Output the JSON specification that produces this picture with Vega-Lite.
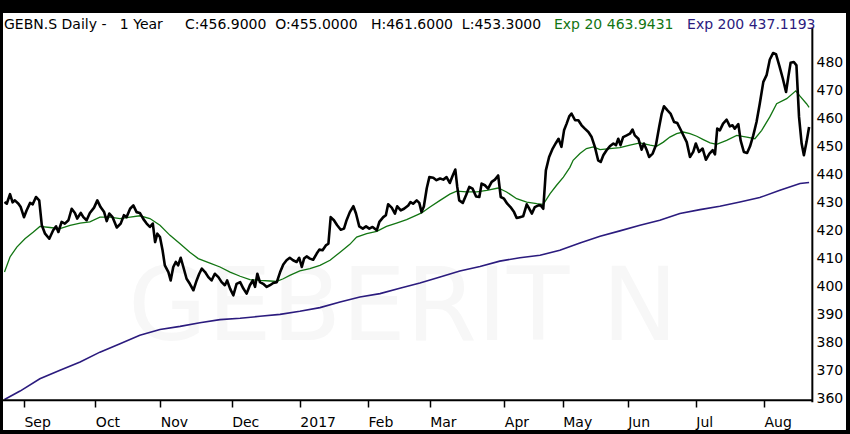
{
  "$schema": "https://vega.github.io/schema/vega-lite/v6.json",
  "width": 843, "height": 417,
  "autosize": "none",
  "padding": {"left": 3, "top": 13, "right": 4, "bottom": 4},
  "background": "black",
  "config": {
    "view": {"fill": "white", "stroke": null},
    "font": "DejaVu Sans",
    "axis": {"labelOverlap": false, "labelFlush": false, "labelBound": false}
  },
  "datasets": {
    "close": [
      {"day":0,"price":430.1},{"day":0.7,"price":429.5},{"day":1.7,"price":432.9},{"day":2.5,"price":430.0},{"day":3.2,"price":430.7},{"day":4.3,"price":429.5},{"day":5.0,"price":428.3},{"day":6.0,"price":424.7},{"day":6.8,"price":427.1},{"day":7.9,"price":429.8},{"day":8.7,"price":429.3},{"day":9.7,"price":431.9},{"day":10.7,"price":430.7},{"day":11.5,"price":421.8},{"day":12.5,"price":418.8},{"day":13.8,"price":417.0},{"day":15.0,"price":420.0},{"day":15.9,"price":421.4},{"day":16.6,"price":419.4},{"day":17.6,"price":423.0},{"day":18.6,"price":422.4},{"day":19.7,"price":423.6},{"day":20.7,"price":427.7},{"day":21.7,"price":426.2},{"day":22.4,"price":424.2},{"day":23.5,"price":426.2},{"day":24.3,"price":424.7},{"day":25.3,"price":423.6},{"day":26.3,"price":426.2},{"day":27.6,"price":428.1},{"day":28.6,"price":430.7},{"day":29.6,"price":428.3},{"day":30.7,"price":426.5},{"day":31.5,"price":423.3},{"day":32.3,"price":426.0},{"day":33.3,"price":424.7},{"day":34.6,"price":421.0},{"day":35.8,"price":422.4},{"day":36.8,"price":425.4},{"day":37.6,"price":424.7},{"day":38.7,"price":427.7},{"day":39.7,"price":428.9},{"day":40.7,"price":426.5},{"day":41.7,"price":426.2},{"day":42.8,"price":424.0},{"day":43.8,"price":422.4},{"day":44.8,"price":421.2},{"day":45.7,"price":422.4},{"day":46.4,"price":415.8},{"day":47.1,"price":418.8},{"day":47.9,"price":417.6},{"day":48.7,"price":412.9},{"day":49.4,"price":407.5},{"day":50.5,"price":405.1},{"day":51.2,"price":402.1},{"day":52.0,"price":406.9},{"day":52.8,"price":408.7},{"day":53.5,"price":407.5},{"day":54.3,"price":410.2},{"day":55.1,"price":406.9},{"day":56.1,"price":402.7},{"day":57.1,"price":400.9},{"day":58.2,"price":398.6},{"day":59.2,"price":402.1},{"day":60.0,"price":404.5},{"day":60.8,"price":406.3},{"day":61.8,"price":405.1},{"day":62.8,"price":403.3},{"day":63.8,"price":402.1},{"day":64.8,"price":404.5},{"day":65.9,"price":403.3},{"day":66.9,"price":401.5},{"day":67.9,"price":400.4},{"day":68.6,"price":402.1},{"day":69.5,"price":399.2},{"day":70.5,"price":396.8},{"day":71.5,"price":400.9},{"day":72.6,"price":401.5},{"day":73.6,"price":399.2},{"day":74.6,"price":397.4},{"day":75.6,"price":400.4},{"day":76.5,"price":402.1},{"day":77.2,"price":399.8},{"day":77.9,"price":404.5},{"day":78.7,"price":401.5},{"day":79.7,"price":400.9},{"day":80.8,"price":399.8},{"day":81.8,"price":400.4},{"day":82.8,"price":401.2},{"day":83.9,"price":401.5},{"day":84.9,"price":405.0},{"day":85.9,"price":407.8},{"day":86.9,"price":409.3},{"day":87.9,"price":410.2},{"day":88.9,"price":409.3},{"day":90.0,"price":408.7},{"day":90.8,"price":410.2},{"day":91.6,"price":406.9},{"day":92.3,"price":409.9},{"day":93.1,"price":410.7},{"day":94.1,"price":409.9},{"day":95.1,"price":409.5},{"day":96.2,"price":411.7},{"day":97.0,"price":413.1},{"day":98.0,"price":412.9},{"day":99.0,"price":414.6},{"day":99.8,"price":415.2},{"day":100.5,"price":424.7},{"day":101.5,"price":423.6},{"day":102.5,"price":421.8},{"day":103.6,"price":420.2},{"day":104.6,"price":420.6},{"day":105.4,"price":423.6},{"day":106.4,"price":426.5},{"day":107.5,"price":428.6},{"day":108.3,"price":426.0},{"day":109.3,"price":421.4},{"day":110.4,"price":420.6},{"day":111.4,"price":421.4},{"day":112.4,"price":420.6},{"day":113.4,"price":421.2},{"day":114.7,"price":420.0},{"day":115.5,"price":423.0},{"day":116.7,"price":424.7},{"day":117.5,"price":425.4},{"day":118.2,"price":429.3},{"day":119.3,"price":428.1},{"day":120.3,"price":426.0},{"day":121.0,"price":428.6},{"day":122.1,"price":427.1},{"day":123.1,"price":427.7},{"day":124.4,"price":428.9},{"day":125.1,"price":430.1},{"day":125.9,"price":429.5},{"day":127.0,"price":430.7},{"day":127.8,"price":429.8},{"day":128.5,"price":426.5},{"day":129.2,"price":428.5},{"day":130.1,"price":435.0},{"day":130.9,"price":439.0},{"day":132.1,"price":438.8},{"day":133.1,"price":437.9},{"day":134.2,"price":438.5},{"day":135.2,"price":438.1},{"day":136.2,"price":439.0},{"day":137.2,"price":436.9},{"day":138.1,"price":439.6},{"day":138.9,"price":441.7},{"day":139.5,"price":435.5},{"day":140.1,"price":430.7},{"day":141.2,"price":429.8},{"day":142.2,"price":432.5},{"day":143.2,"price":435.5},{"day":144.2,"price":434.9},{"day":145.3,"price":432.1},{"day":146.3,"price":431.9},{"day":147.0,"price":436.7},{"day":148.0,"price":436.1},{"day":149.0,"price":434.9},{"day":150.1,"price":437.3},{"day":151.1,"price":438.1},{"day":152.1,"price":439.6},{"day":152.9,"price":431.9},{"day":153.9,"price":431.3},{"day":154.9,"price":429.5},{"day":155.9,"price":428.3},{"day":157.0,"price":426.5},{"day":157.8,"price":424.4},{"day":158.8,"price":424.7},{"day":159.8,"price":425.0},{"day":160.9,"price":429.3},{"day":161.7,"price":427.7},{"day":162.5,"price":426.0},{"day":163.4,"price":428.3},{"day":164.5,"price":428.9},{"day":165.2,"price":428.9},{"day":166.0,"price":427.7},{"day":166.8,"price":441.4},{"day":167.8,"price":446.2},{"day":168.9,"price":449.2},{"day":169.9,"price":451.2},{"day":170.7,"price":452.7},{"day":171.6,"price":449.8},{"day":172.4,"price":455.7},{"day":173.2,"price":458.1},{"day":174.0,"price":460.7},{"day":174.7,"price":461.7},{"day":175.8,"price":459.3},{"day":176.8,"price":459.3},{"day":177.8,"price":457.5},{"day":178.8,"price":456.3},{"day":179.9,"price":455.1},{"day":180.9,"price":453.3},{"day":181.9,"price":449.8},{"day":182.9,"price":445.0},{"day":183.7,"price":444.4},{"day":184.5,"price":446.8},{"day":185.5,"price":448.6},{"day":186.5,"price":450.0},{"day":187.6,"price":451.0},{"day":188.4,"price":450.4},{"day":189.1,"price":452.7},{"day":189.8,"price":450.4},{"day":190.6,"price":453.3},{"day":191.7,"price":453.9},{"day":192.7,"price":454.5},{"day":193.5,"price":456.0},{"day":194.2,"price":453.9},{"day":195.3,"price":452.7},{"day":196.3,"price":448.8},{"day":197.0,"price":451.0},{"day":197.9,"price":448.6},{"day":198.6,"price":446.2},{"day":199.7,"price":447.4},{"day":200.7,"price":450.4},{"day":201.7,"price":456.9},{"day":202.5,"price":461.7},{"day":203.2,"price":464.3},{"day":204.2,"price":462.9},{"day":205.2,"price":461.7},{"day":206.3,"price":458.7},{"day":207.3,"price":458.3},{"day":208.3,"price":456.0},{"day":209.3,"price":453.6},{"day":210.2,"price":451.5},{"day":211.2,"price":446.2},{"day":212.2,"price":448.0},{"day":213.0,"price":451.0},{"day":214.0,"price":448.0},{"day":215.1,"price":449.2},{"day":216.1,"price":445.2},{"day":217.2,"price":447.4},{"day":218.2,"price":448.6},{"day":218.9,"price":447.1},{"day":219.6,"price":456.3},{"day":220.4,"price":455.7},{"day":221.4,"price":458.1},{"day":222.5,"price":459.5},{"day":223.5,"price":457.1},{"day":224.3,"price":457.5},{"day":225.0,"price":456.3},{"day":226.1,"price":457.9},{"day":226.8,"price":452.1},{"day":227.8,"price":448.0},{"day":228.8,"price":447.6},{"day":229.7,"price":450.0},{"day":230.7,"price":453.9},{"day":231.7,"price":458.7},{"day":232.7,"price":465.2},{"day":233.8,"price":473.0},{"day":234.8,"price":475.4},{"day":235.8,"price":481.0},{"day":236.8,"price":483.3},{"day":237.7,"price":482.9},{"day":238.7,"price":478.9},{"day":239.8,"price":474.2},{"day":240.8,"price":469.4},{"day":241.5,"price":474.8},{"day":242.2,"price":479.8},{"day":243.2,"price":480.1},{"day":244.0,"price":478.9},{"day":244.8,"price":460.5},{"day":245.6,"price":451.0},{"day":246.3,"price":446.8},{"day":247.1,"price":451.5},{"day":247.9,"price":456.9}
    ],
    "ema20": [
      {"day":0,"price":405.1},{"day":1.7,"price":410.5},{"day":3.8,"price":414.0},{"day":6.3,"price":417.0},{"day":8.9,"price":419.4},{"day":10.9,"price":421.4},{"day":14.0,"price":421.0},{"day":17.1,"price":420.6},{"day":20.2,"price":421.8},{"day":23.3,"price":422.6},{"day":26.3,"price":423.0},{"day":29.4,"price":424.7},{"day":32.5,"price":424.7},{"day":35.6,"price":424.2},{"day":38.7,"price":424.7},{"day":41.7,"price":425.2},{"day":44.8,"price":424.2},{"day":47.9,"price":421.8},{"day":51.0,"price":418.2},{"day":54.1,"price":415.2},{"day":57.1,"price":412.2},{"day":59.7,"price":409.9},{"day":63.3,"price":408.3},{"day":66.4,"price":406.9},{"day":69.5,"price":405.1},{"day":72.6,"price":403.6},{"day":75.6,"price":402.4},{"day":78.7,"price":402.1},{"day":81.8,"price":401.9},{"day":83.9,"price":401.8},{"day":85.9,"price":402.7},{"day":87.9,"price":403.9},{"day":91.0,"price":405.5},{"day":94.1,"price":406.3},{"day":97.2,"price":407.5},{"day":100.3,"price":409.3},{"day":103.4,"price":412.2},{"day":106.4,"price":415.0},{"day":108.5,"price":417.6},{"day":111.6,"price":418.8},{"day":114.7,"price":419.6},{"day":117.7,"price":421.4},{"day":120.8,"price":422.6},{"day":123.9,"price":423.8},{"day":127.0,"price":425.4},{"day":128.5,"price":426.2},{"day":131.1,"price":428.3},{"day":134.2,"price":430.7},{"day":137.2,"price":432.9},{"day":139.3,"price":434.0},{"day":142.4,"price":433.7},{"day":145.5,"price":433.7},{"day":148.6,"price":434.3},{"day":152.1,"price":435.1},{"day":154.7,"price":433.7},{"day":157.8,"price":431.3},{"day":160.9,"price":430.1},{"day":164.0,"price":429.5},{"day":166.0,"price":429.3},{"day":168.1,"price":433.1},{"day":170.1,"price":436.1},{"day":172.2,"price":439.0},{"day":174.2,"price":442.5},{"day":175.2,"price":445.0},{"day":177.3,"price":447.4},{"day":179.3,"price":449.2},{"day":181.4,"price":449.8},{"day":183.5,"price":448.8},{"day":186.5,"price":449.2},{"day":189.6,"price":449.5},{"day":192.7,"price":450.4},{"day":195.8,"price":451.2},{"day":198.9,"price":450.4},{"day":200.9,"price":450.0},{"day":203.0,"price":451.5},{"day":205.0,"price":453.3},{"day":207.1,"price":454.5},{"day":209.1,"price":455.1},{"day":211.2,"price":454.5},{"day":213.3,"price":453.6},{"day":215.3,"price":452.4},{"day":217.4,"price":451.2},{"day":219.4,"price":450.7},{"day":222.5,"price":452.1},{"day":225.6,"price":453.9},{"day":228.7,"price":453.3},{"day":231.2,"price":452.7},{"day":233.3,"price":455.7},{"day":235.8,"price":460.5},{"day":237.9,"price":465.2},{"day":241.0,"price":467.0},{"day":243.8,"price":469.8},{"day":245.1,"price":467.9},{"day":247.1,"price":465.2},{"day":247.9,"price":463.9}
    ],
    "ema200": [
      {"day":0,"price":359.6},{"day":4.8,"price":362.6},{"day":10.9,"price":367.0},{"day":17.1,"price":370.0},{"day":23.3,"price":373.0},{"day":29.4,"price":376.5},{"day":35.6,"price":379.5},{"day":41.7,"price":382.5},{"day":47.9,"price":384.6},{"day":54.1,"price":385.7},{"day":60.2,"price":387.0},{"day":66.4,"price":388.1},{"day":72.6,"price":388.6},{"day":78.7,"price":389.3},{"day":84.9,"price":390.0},{"day":91.0,"price":391.1},{"day":97.2,"price":392.4},{"day":103.4,"price":394.4},{"day":109.5,"price":396.2},{"day":115.7,"price":397.4},{"day":121.8,"price":399.3},{"day":128.0,"price":401.2},{"day":134.2,"price":403.3},{"day":140.3,"price":405.5},{"day":146.5,"price":407.1},{"day":152.6,"price":409.0},{"day":158.8,"price":410.2},{"day":165.0,"price":411.1},{"day":171.1,"price":412.9},{"day":177.3,"price":415.5},{"day":183.5,"price":417.9},{"day":189.6,"price":419.8},{"day":195.8,"price":421.8},{"day":201.9,"price":423.6},{"day":208.1,"price":426.0},{"day":214.3,"price":427.4},{"day":220.4,"price":428.6},{"day":226.6,"price":430.1},{"day":232.7,"price":431.7},{"day":238.9,"price":434.3},{"day":245.1,"price":436.7},{"day":247.9,"price":437.1}
    ]
  },
  "layer": [
    {
      "data": {"values": [{"label": "GEBERIT N"}]},
      "mark": {"type": "text", "align": "center", "baseline": "alphabetic", "fontSize": 102, "color": "#f7f7f7"},
      "encoding": {
        "x": {"datum": 122.8, "type": "quantitative"},
        "y": {"datum": 380.7, "type": "quantitative"},
        "text": {"field": "label"}
      }
    },
    {
      "data": {"name": "ema200"},
      "mark": {"type": "line", "color": "#2b1b7e", "strokeWidth": 1.6},
      "encoding": {
        "x": {
          "field": "day", "type": "quantitative", "title": null,
          "scale": {"domain": [-0.46, 259.27], "nice": false, "zero": false},
          "axis": {
            "orient": "bottom", "offset": -30, "title": null, "grid": false, "domain": false,
            "values": [6, 28, 48, 70, 91, 112, 131, 154, 172, 192, 213, 234],
            "labelExpr": "['Sep','Oct','Nov','Dec','2017','Feb','Mar','Apr','May','Jun','Jul','Aug'][indexof([6,28,48,70,91,112,131,154,172,192,213,234], datum.value)]",
            "labelAlign": "left", "labelFlush": false, "labelOverlap": false,
            "labelFontSize": 14, "labelColor": "black", "labelPadding": 8,
            "tickColor": "black", "tickSize": 7, "tickWidth": 1.5
          }
        },
        "y": {
          "field": "price", "type": "quantitative", "title": null,
          "scale": {"domain": [348.7, 497.6], "nice": false, "zero": false},
          "axis": {
            "orient": "right", "offset": -34, "title": null, "grid": false, "domain": false,
            "tickColor": "white", "tickSize": 0, "tickCount": 13, "labelOverlap": false, "labelFlush": false,
            "values": [360, 370, 380, 390, 400, 410, 420, 430, 440, 450, 460, 470, 480],
            "labelAlign": "left", "labelBaseline": "middle", "labelFontSize": 14, "labelColor": "black", "labelPadding": 4
          }
        }
      }
    },
    {
      "data": {"name": "ema20"},
      "mark": {"type": "line", "color": "#127512", "strokeWidth": 1.3},
      "encoding": {
        "x": {"field": "day", "type": "quantitative", "title": null},
        "y": {"field": "price", "type": "quantitative", "title": null}
      }
    },
    {
      "data": {"name": "close"},
      "mark": {"type": "line", "color": "black", "strokeWidth": 2.6, "strokeJoin": "round"},
      "encoding": {
        "x": {"field": "day", "type": "quantitative", "title": null},
        "y": {"field": "price", "type": "quantitative", "title": null}
      }
    },
    {
      "data": {"values": [{"edge": "price axis"}]},
      "mark": {"type": "rule", "color": "black", "strokeWidth": 2},
      "encoding": {
        "x": {"datum": 248.9, "type": "quantitative"},
        "y": {"datum": 358.6, "type": "quantitative"},
        "y2": {"datum": 492.2}
      }
    },
    {
      "data": {"values": [{"edge": "time axis"}]},
      "mark": {"type": "rule", "color": "black", "strokeWidth": 2},
      "encoding": {
        "x": {"datum": -0.46, "type": "quantitative"},
        "x2": {"datum": 248.9},
        "y": {"datum": 359.3, "type": "quantitative"}
      }
    },
    {
      "data": {"values": [{"label": "GEBN.S Daily -\u00a0\u00a0\u00a01 Year\u00a0\u00a0\u00a0\u00a0\u00a0C:456.9000\u00a0\u00a0O:455.0000\u00a0\u00a0\u00a0H:461.6000\u00a0\u00a0L:453.3000"}]},
      "mark": {"type": "text", "align": "left", "baseline": "alphabetic", "fontSize": 14, "color": "black"},
      "encoding": {
        "x": {"datum": -0.15, "type": "quantitative"},
        "y": {"datum": 491.8, "type": "quantitative"},
        "text": {"field": "label"}
      }
    },
    {
      "data": {"values": [{"label": "Exp 20 463.9431"}]},
      "mark": {"type": "text", "align": "left", "baseline": "alphabetic", "fontSize": 14, "color": "#127512"},
      "encoding": {
        "x": {"datum": 169.3, "type": "quantitative"},
        "y": {"datum": 491.8, "type": "quantitative"},
        "text": {"field": "label"}
      }
    },
    {
      "data": {"values": [{"label": "Exp 200 437.1193"}]},
      "mark": {"type": "text", "align": "left", "baseline": "alphabetic", "fontSize": 14, "color": "#2b1b7e"},
      "encoding": {
        "x": {"datum": 210.3, "type": "quantitative"},
        "y": {"datum": 491.8, "type": "quantitative"},
        "text": {"field": "label"}
      }
    }
  ]
}
